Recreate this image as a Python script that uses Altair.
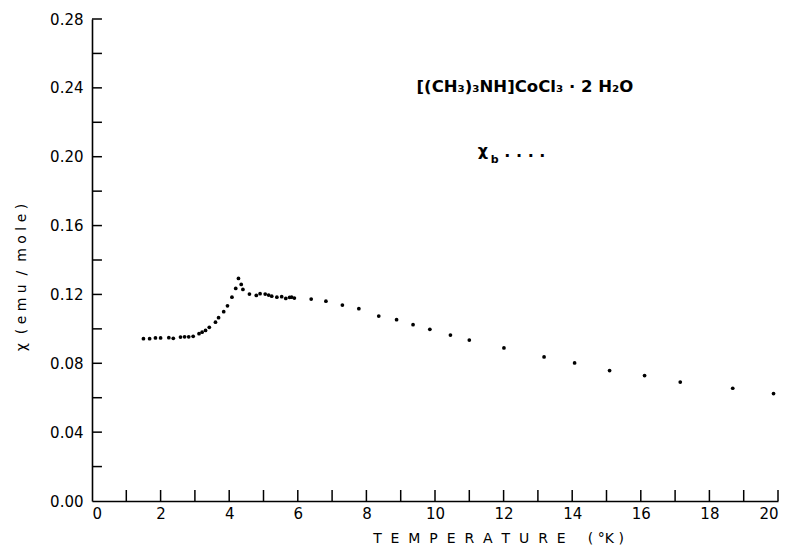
import altair as alt
import pandas as pd

# Temperature (K) and susceptibility chi_b (emu/mole)
temperature = [1.50, 1.68, 1.85, 2.00, 2.24, 2.37, 2.58, 2.70, 2.82, 2.95,
               3.12, 3.21, 3.31, 3.42, 3.60, 3.69, 3.84, 3.95, 4.08, 4.19,
               4.27, 4.35, 4.40, 4.59, 4.79, 4.90, 5.05, 5.15, 5.24, 5.39,
               5.53, 5.65, 5.76, 5.82, 5.90, 6.39, 6.82, 7.30, 7.78, 8.36,
               8.88, 9.36, 9.85, 10.45, 11.00, 12.01, 13.18, 14.07, 15.09,
               16.11, 17.15, 18.68, 19.87]
chi_b = [0.0943, 0.0943, 0.0947, 0.0947, 0.0949, 0.0945, 0.0952, 0.0954, 0.0954, 0.0957,
         0.0972, 0.0981, 0.0991, 0.1009, 0.1039, 0.1065, 0.1100, 0.1134, 0.1184, 0.1235,
         0.1293, 0.1258, 0.1229, 0.1202, 0.1194, 0.1204, 0.1202, 0.1196, 0.1190, 0.1184,
         0.1187, 0.1177, 0.1183, 0.1184, 0.1179, 0.1173, 0.1161, 0.1138, 0.1117, 0.1074,
         0.1053, 0.1024, 0.0997, 0.0964, 0.0935, 0.0889, 0.0837, 0.0802, 0.0758,
         0.0729, 0.0691, 0.0655, 0.0624]

x_label_values = [0, 2, 4, 6, 8, 10, 12, 14, 16, 18, 20]
x_tick_values = list(range(1, 21))
y_label_values = [0.00, 0.04, 0.08, 0.12, 0.16, 0.20, 0.24, 0.28]
y_tick_values = [0.02, 0.04, 0.06, 0.08, 0.10, 0.12, 0.14, 0.16, 0.18, 0.20, 0.22, 0.24, 0.26, 0.28]

FONT = "DejaVu Sans"
NB = "\u00a0"

x_title = (NB * 2).join(list("TEMPERATURE")) + NB * 5 + "(" + NB + "°K" + NB + ")"
y_title = ("χ" + NB * 2 + "(" + NB + NB.join(list("emu")) + NB * 2 + "/" + NB * 2
           + NB.join(list("mole")) + NB + ")")

df = pd.DataFrame({"T": temperature, "chi": chi_b})
xt = pd.DataFrame({"T": x_tick_values, "y0": 0.0, "y1": 0.0064})
yt = pd.DataFrame({"chi": y_tick_values, "x0": 0.0, "x1": 0.29})

xscale = alt.Scale(domain=[0, 20], nice=False, zero=False)
yscale = alt.Scale(domain=[0, 0.28], nice=False, zero=False)

points = alt.Chart(df).mark_circle(size=14, color="black", opacity=1).encode(
    x=alt.X("T:Q", scale=xscale,
            axis=alt.Axis(values=x_label_values, format="d", tickSize=0, labelPadding=5,
                          labelFont=FONT, labelFontSize=15, labelColor="black",
                          domainColor="black", domainWidth=1.6, grid=False,
                          title=x_title, titleFont=FONT,
                          titleFontSize=14, titleFontWeight="normal", titleColor="black",
                          titleX=406, titleY=37, titleBaseline="middle",
                          titleAnchor="start", titleAlign="center")),
    y=alt.Y("chi:Q", scale=yscale,
            axis=alt.Axis(values=y_label_values, format=".2f", tickSize=0, labelPadding=9,
                          labelFont=FONT, labelFontSize=15, labelColor="black",
                          domainColor="black", domainWidth=1.6, grid=False,
                          title=y_title, titleFont=FONT, titleFontSize=14,
                          titleFontWeight="normal", titleColor="black",
                          titleX=-71, titleY=258, titleBaseline="middle",
                          titleAnchor="start", titleAlign="center")),
)

xticks = alt.Chart(xt).mark_rule(color="black", strokeWidth=1.5).encode(
    x=alt.X("T:Q", scale=xscale), y=alt.Y("y0:Q", scale=yscale), y2="y1:Q")
yticks = alt.Chart(yt).mark_rule(color="black", strokeWidth=1.5).encode(
    y=alt.Y("chi:Q", scale=yscale), x=alt.X("x0:Q", scale=xscale), x2="x1:Q")

formula = pd.DataFrame({"T": [12.62], "chi": [0.2406], "txt": ["[(CH₃)₃NH]CoCl₃ · 2 H₂O"]})
leg_chi = pd.DataFrame({"T": [11.40], "chi": [0.2035], "txt": ["χ"]})
leg_b = pd.DataFrame({"T": [11.74], "chi": [0.1983], "txt": ["b"]})
leg_dots = pd.DataFrame({"T": [12.62], "chi": [0.2006], "txt": ["·" + NB + "·" + NB + "·" + NB + "·"]})

def label(d, size, weight="bold"):
    return alt.Chart(d).mark_text(font=FONT, fontSize=size, fontWeight=weight,
                                  color="black", align="center", baseline="middle").encode(
        x=alt.X("T:Q", scale=xscale), y=alt.Y("chi:Q", scale=yscale), text="txt:N")

chart = alt.layer(
    points, xticks, yticks,
    label(formula, 16.5), label(leg_chi, 16), label(leg_b, 11), label(leg_dots, 16),
).properties(
    width=686, height=482,
    autosize=alt.AutoSizeParams(type="none"),
    padding={"left": 84, "top": 11, "right": 8, "bottom": 44},
    background="white",
).configure_view(stroke=None)

chart.save("out.html", embed_options={"renderer": "svg", "actions": False})
